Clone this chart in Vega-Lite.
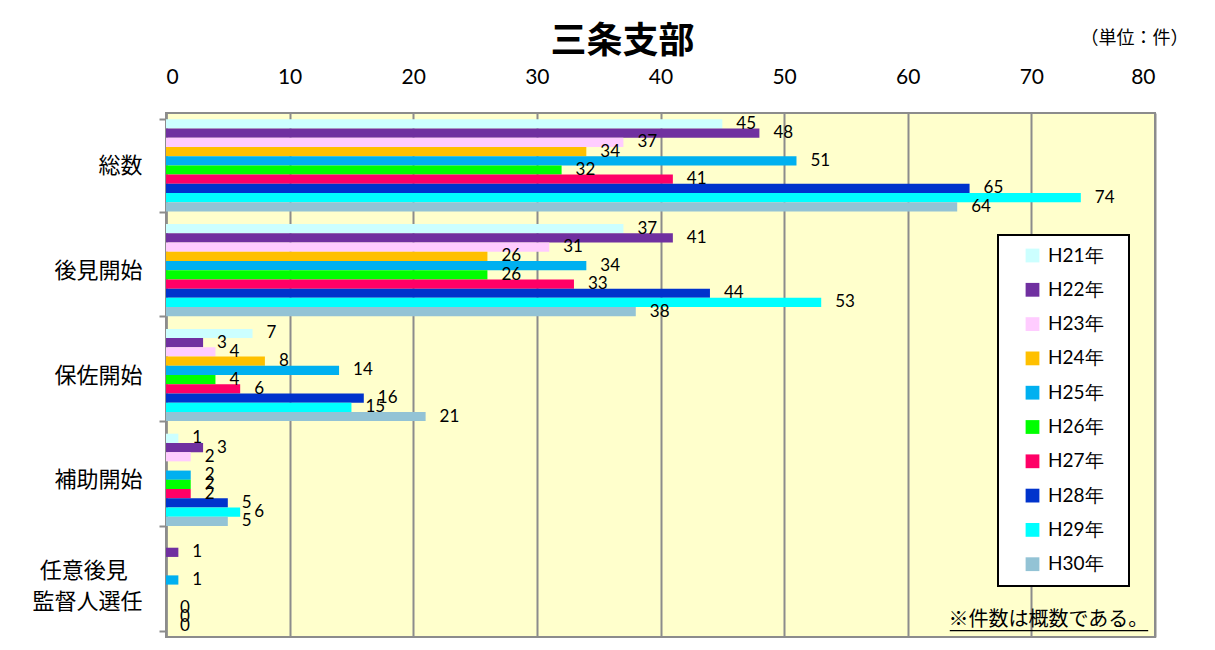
{
  "$schema": "https://vega.github.io/schema/vega-lite/v6.json",
  "width": 989,
  "height": 524,
  "autosize": {"type": "none"},
  "padding": {"left": 166, "top": 113, "right": 60, "bottom": 13},
  "background": "white",
  "config": {
    "view": {"fill": "#FFFFCC", "stroke": "#8C8C8C", "strokeWidth": 2},
    "legend": {"strokeWidth": 2}
  },
  "title": {
    "text": "三条支部",
    "font": "Noto Sans CJK JP",
    "fontSize": 36,
    "fontWeight": "bold",
    "color": "black",
    "anchor": "middle",
    "dx": -38,
    "offset": -32
  },
  "data": {
    "values": [
      {"category": "総数", "year": "H21年", "value": 45},
      {"category": "総数", "year": "H22年", "value": 48},
      {"category": "総数", "year": "H23年", "value": 37},
      {"category": "総数", "year": "H24年", "value": 34},
      {"category": "総数", "year": "H25年", "value": 51},
      {"category": "総数", "year": "H26年", "value": 32},
      {"category": "総数", "year": "H27年", "value": 41},
      {"category": "総数", "year": "H28年", "value": 65},
      {"category": "総数", "year": "H29年", "value": 74},
      {"category": "総数", "year": "H30年", "value": 64},
      {"category": "後見開始", "year": "H21年", "value": 37},
      {"category": "後見開始", "year": "H22年", "value": 41},
      {"category": "後見開始", "year": "H23年", "value": 31},
      {"category": "後見開始", "year": "H24年", "value": 26},
      {"category": "後見開始", "year": "H25年", "value": 34},
      {"category": "後見開始", "year": "H26年", "value": 26},
      {"category": "後見開始", "year": "H27年", "value": 33},
      {"category": "後見開始", "year": "H28年", "value": 44},
      {"category": "後見開始", "year": "H29年", "value": 53},
      {"category": "後見開始", "year": "H30年", "value": 38},
      {"category": "保佐開始", "year": "H21年", "value": 7},
      {"category": "保佐開始", "year": "H22年", "value": 3},
      {"category": "保佐開始", "year": "H23年", "value": 4},
      {"category": "保佐開始", "year": "H24年", "value": 8},
      {"category": "保佐開始", "year": "H25年", "value": 14},
      {"category": "保佐開始", "year": "H26年", "value": 4},
      {"category": "保佐開始", "year": "H27年", "value": 6},
      {"category": "保佐開始", "year": "H28年", "value": 16},
      {"category": "保佐開始", "year": "H29年", "value": 15},
      {"category": "保佐開始", "year": "H30年", "value": 21},
      {"category": "補助開始", "year": "H21年", "value": 1},
      {"category": "補助開始", "year": "H22年", "value": 3},
      {"category": "補助開始", "year": "H23年", "value": 2},
      {"category": "補助開始", "year": "H24年", "value": null},
      {"category": "補助開始", "year": "H25年", "value": 2},
      {"category": "補助開始", "year": "H26年", "value": 2},
      {"category": "補助開始", "year": "H27年", "value": 2},
      {"category": "補助開始", "year": "H28年", "value": 5},
      {"category": "補助開始", "year": "H29年", "value": 6},
      {"category": "補助開始", "year": "H30年", "value": 5},
      {"category": "任意後見監督人選任", "year": "H21年", "value": null},
      {"category": "任意後見監督人選任", "year": "H22年", "value": 1},
      {"category": "任意後見監督人選任", "year": "H23年", "value": null},
      {"category": "任意後見監督人選任", "year": "H24年", "value": null},
      {"category": "任意後見監督人選任", "year": "H25年", "value": 1},
      {"category": "任意後見監督人選任", "year": "H26年", "value": null},
      {"category": "任意後見監督人選任", "year": "H27年", "value": null},
      {"category": "任意後見監督人選任", "year": "H28年", "value": 0},
      {"category": "任意後見監督人選任", "year": "H29年", "value": 0},
      {"category": "任意後見監督人選任", "year": "H30年", "value": 0}
    ]
  },
  "layer": [
    {
      "mark": {"type": "bar"},
      "encoding": {
        "y": {
          "field": "category",
          "type": "nominal",
          "sort": ["総数", "後見開始", "保佐開始", "補助開始", "任意後見監督人選任"],
          "scale": {"paddingInner": 0.12, "paddingOuter": 0.06},
          "axis": {
            "title": null,
            "tickBand": "extent",
            "tickSize": 7,
            "tickColor": "#8C8C8C",
            "tickWidth": 2,
            "domainColor": "#8C8C8C",
            "domainWidth": 2.5,
            "labelFont": "Noto Sans CJK JP",
            "labelFontSize": 22,
            "labelColor": "black",
            "labelPadding": 17,
            "labelLineHeight": 31,
            "labelLimit": 300,
            "labelBaseline": "middle",
            "labelOffset": {"condition": {"test": "datum.value == '任意後見監督人選任'", "value": -14}, "value": 0},
            "labelExpr": "datum.value == '任意後見監督人選任' ? ['任意後見\u2002\u2006\u200b', '監督人選任'] : datum.label"
          }
        },
        "x": {
          "field": "value",
          "type": "quantitative",
          "scale": {"domain": [0, 80], "nice": false},
          "axis": {
            "orient": "top",
            "values": [0, 10, 20, 30, 40, 50, 60, 70, 80],
            "ticks": false,
            "tickSize": 0,
            "domain": false,
            "grid": true,
            "gridColor": "#8C8C8C",
            "gridWidth": 2,
            "labelFont": "Lato",
            "labelFontSize": 21,
            "labelColor": "black",
            "labelPadding": 26,
            "title": "（単位：件）",
            "titleX": 968,
            "titleY": -75,
            "titleFont": "Noto Sans CJK JP",
            "titleFontSize": 18,
            "titleFontWeight": "normal",
            "titleAlign": "center",
            "titleBaseline": "middle",
            "titleColor": "black"
          }
        },
        "yOffset": {
          "field": "year",
          "type": "nominal",
          "sort": ["H21年", "H22年", "H23年", "H24年", "H25年", "H26年", "H27年", "H28年", "H29年", "H30年"],
          "scale": {"paddingInner": 0, "paddingOuter": 0}
        },
        "color": {
          "field": "year",
          "type": "nominal",
          "scale": {
            "domain": ["H21年", "H22年", "H23年", "H24年", "H25年", "H26年", "H27年", "H28年", "H29年", "H30年"],
            "range": ["#CCFFFF", "#7030A0", "#FFCCFF", "#FFC000", "#00B0F0", "#00FF00", "#FF0066", "#0033CC", "#00FFFF", "#93C3D5"]
          },
          "legend": {
            "title": null,
            "orient": "none",
            "legendX": 832,
            "legendY": 122,
            "fillColor": "white",
            "strokeColor": "black",
            "padding": 11,
            "symbolType": "square",
            "symbolSize": 190,
            "symbolOffset": 14,
            "symbolStrokeWidth": 0,
            "symbolOpacity": 1,
            "labelFont": "Lato",
            "labelFontSize": 19,
            "labelColor": "black",
            "labelOffset": 6,
            "rowPadding": 14.3,
            "labelExpr": "datum.label + '\u2002\u2005\u200b'"
          }
        }
      }
    },
    {
      "mark": {"type": "text", "align": "left", "baseline": "middle", "dx": 14, "font": "Lato", "fontSize": 17, "color": "black"},
      "encoding": {
        "y": {"field": "category", "type": "nominal", "sort": ["総数", "後見開始", "保佐開始", "補助開始", "任意後見監督人選任"]},
        "x": {"field": "value", "type": "quantitative"},
        "yOffset": {"field": "year", "type": "nominal", "sort": ["H21年", "H22年", "H23年", "H24年", "H25年", "H26年", "H27年", "H28年", "H29年", "H30年"]},
        "text": {"field": "value", "type": "quantitative"}
      }
    },
    {
      "data": {"values": [{"note": "※件数は概数である。"}]},
      "mark": {"type": "text", "align": "right", "baseline": "middle", "dy": 35, "font": "Noto Sans CJK JP", "fontSize": 20, "color": "black"},
      "encoding": {
        "y": {"datum": "任意後見監督人選任", "type": "nominal"},
        "x": {"datum": 79.45, "type": "quantitative"},
        "text": {"field": "note"}
      }
    },
    {
      "data": {"values": [{"note": "underline"}]},
      "mark": {"type": "rule", "color": "black", "strokeWidth": 1.2, "yOffset": 46},
      "encoding": {
        "y": {"datum": "任意後見監督人選任", "type": "nominal"},
        "x": {"datum": 63.4, "type": "quantitative"},
        "x2": {"datum": 79.45}
      }
    }
  ]
}
